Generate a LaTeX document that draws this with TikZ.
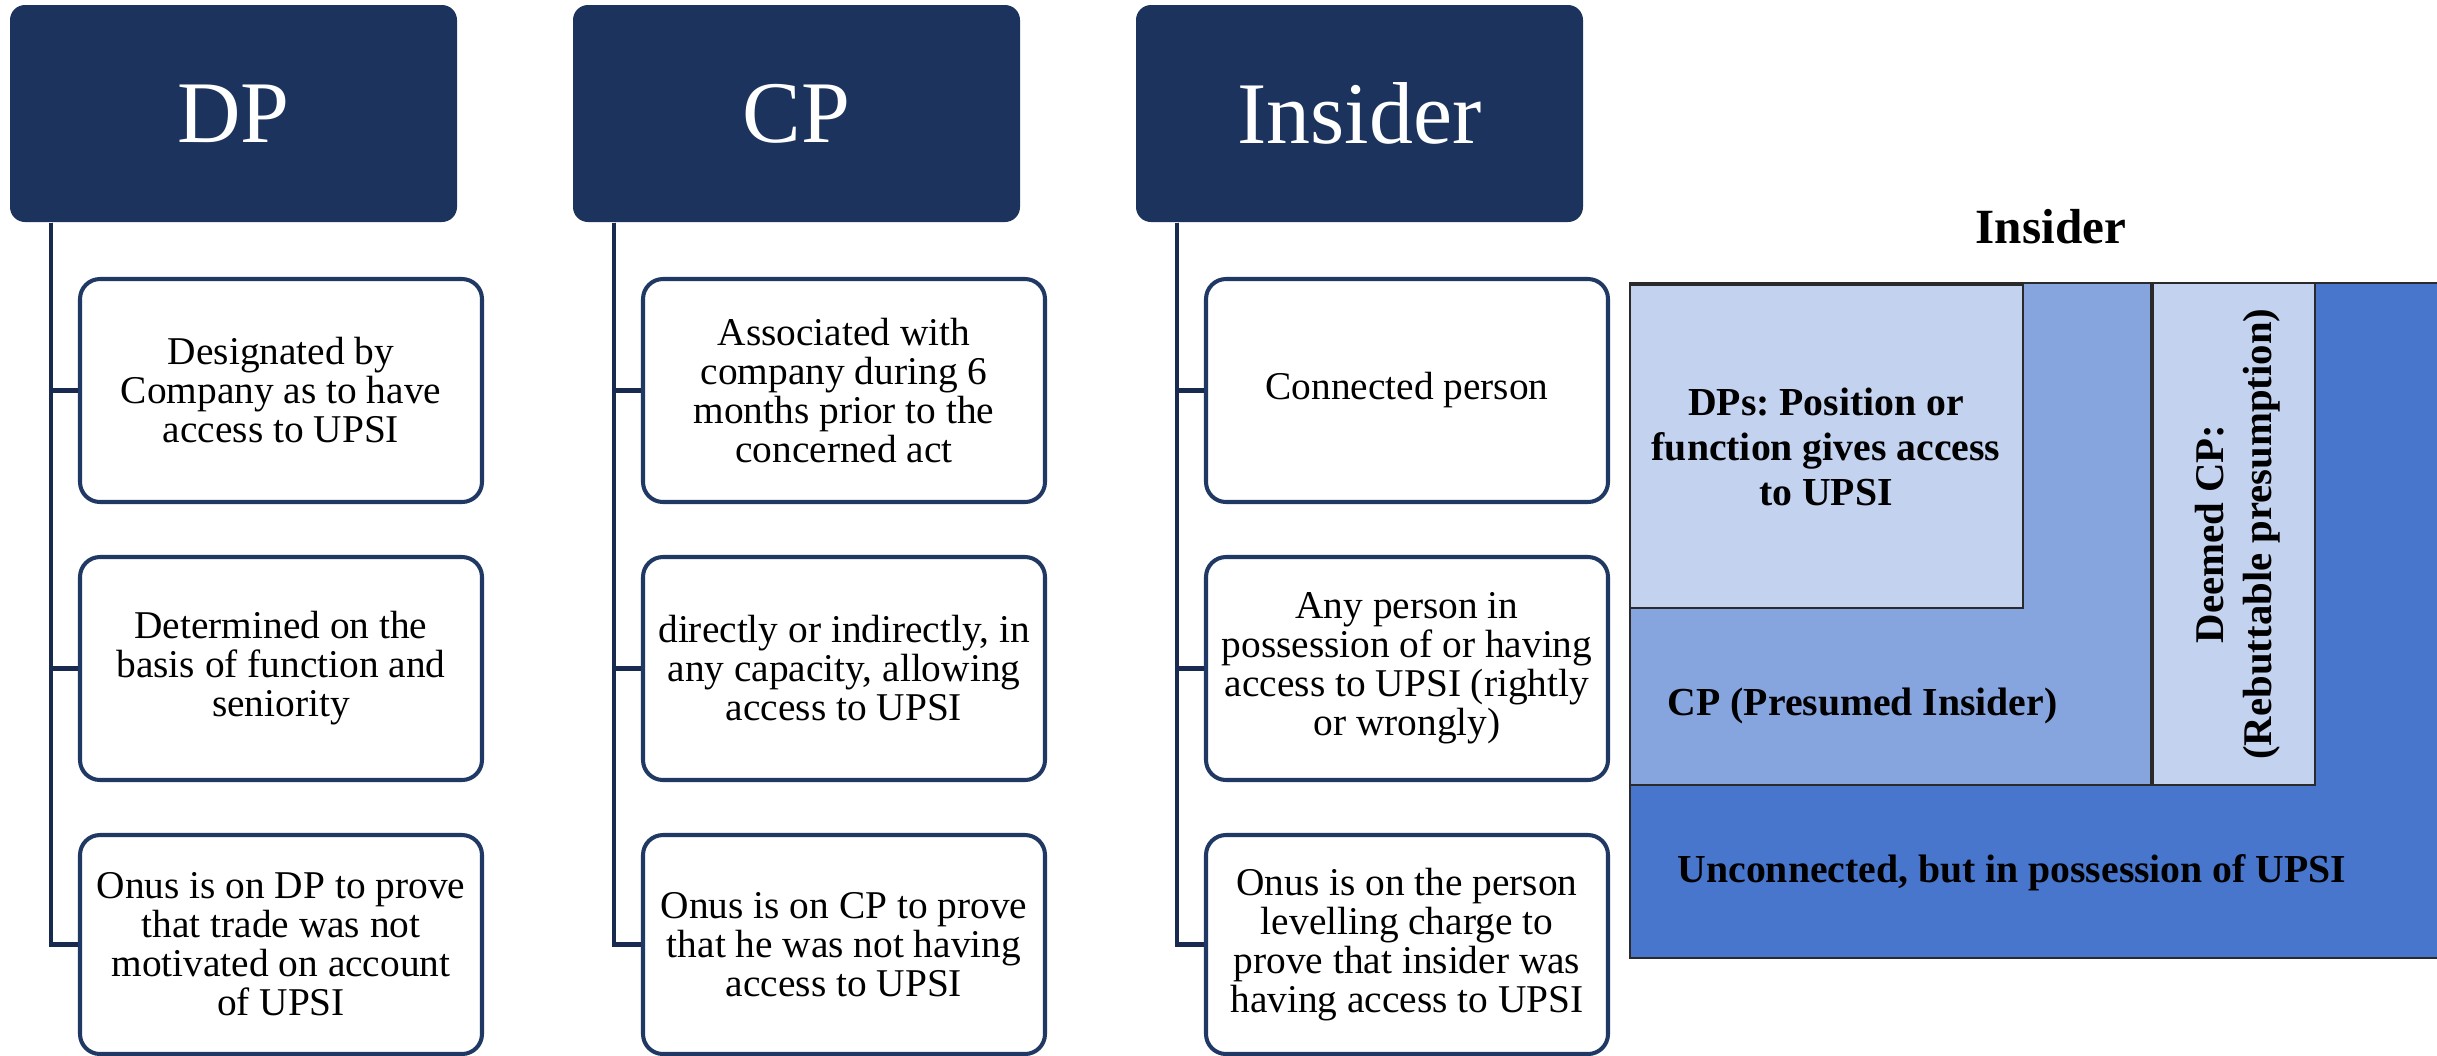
\documentclass[tikz,border=0pt]{standalone}
\usepackage{fontspec}
\setmainfont{Liberation Serif}
\frenchspacing
\definecolor{navy}{HTML}{1C335E}
\definecolor{navyline}{HTML}{1F3864}
\definecolor{trunkc}{HTML}{182A50}
\definecolor{ltblue}{HTML}{C3D2EE}
\definecolor{mdblue}{HTML}{86A4DE}
\definecolor{dkblue}{HTML}{4876CC}
\definecolor{edge}{HTML}{2A2A2A}
\tikzset{
  hdr/.style={fill=navy, rounded corners=1.5mm, minimum width=44.7mm,
    minimum height=21.7mm, inner sep=0pt, text=white,
    font=\fontsize{25}{30}\selectfont},
  item/.style={draw=navyline, line width=1.15pt, fill=white, rounded corners=2mm,
    minimum width=40.2mm, minimum height=22.3mm, inner sep=0pt, align=center,
    font=\fontsize{11.2}{11.1}\selectfont},
  lastitem/.style={item, minimum height=21.9mm},
  trunk/.style={draw=trunkc, line width=1.2pt},
  zone/.style={draw=edge, line width=0.35pt},
  paneltext/.style={inner sep=0pt, font=\fontsize{11.3}{12.8}\selectfont\bfseries}
}
\begin{document}
\begin{tikzpicture}[x=0.1mm, y=-0.1mm]
\useasboundingbox (0,0) rectangle (2437,1055);
\clip (0,0) rectangle (2437,1055);
\fill[white] (0,0) rectangle (2437,1055);

% column headers
\node[hdr] (hdp) at (233.5,113.5) {DP};
\node[hdr] (hcp) at (796.5,113.5) {CP};
\node[hdr] (hin) at (1359.5,113.5) {Insider};

% DP column
\node[item] (dp1) at (281,390.5) {Designated by\\Company as to have\\access to UPSI};
\node[item] (dp2) at (281,668.5) {Determined on the\\basis of function and\\seniority};
\node[lastitem] (dp3) at (281,944.5) {Onus is on DP to prove\\that trade was not\\motivated on account\\of UPSI};

% CP column
\node[item] (cp1) at (844,390.5) {Associated with\\company during 6\\months prior to the\\concerned act};
\node[item] (cp2) at (844,668.5) {directly or indirectly, in\\any capacity, allowing\\access to UPSI};
\node[lastitem] (cp3) at (844,944.5) {Onus is on CP to prove\\that he was not having\\access to UPSI};

% Insider column
\node[item] (in1) at (1407,390.5) {Connected person};
\node[item] (in2) at (1407,668.5) {Any person in\\possession of or having\\access to UPSI (rightly\\or wrongly)};
\node[lastitem] (in3) at (1407,944.5) {Onus is on the person\\levelling charge to\\prove that insider was\\having access to UPSI};

% trunk lines with branches
\foreach \h/\c in {hdp/dp, hcp/cp, hin/in}{
  \draw[trunk] ([xshift=4.2mm]\h.south west) |- (\c3.west);
  \draw[trunk] ([xshift=4.2mm]\h.south west) |- (\c2.west);
  \draw[trunk] ([xshift=4.2mm]\h.south west) |- (\c1.west);
}

% nested insider zones
\node[paneltext, font=\fontsize{14}{16}\selectfont\bfseries] (ttl) at (2051,227) {Insider};
\filldraw[zone, fill=dkblue] (1630,283) rectangle (2460,958);
\filldraw[zone, fill=mdblue] (1630,283) rectangle (2151,785);
\filldraw[zone, fill=ltblue] (1630,285) rectangle (2023,608);
\filldraw[zone, fill=ltblue] (2153,283) rectangle (2315,785);

\node[paneltext, align=center] (dps) at (1826,447) {DPs: Position or\\function gives access\\to UPSI};
\node[paneltext, anchor=west] (cpt) at (1667,706) {CP (Presumed Insider)};
\node[paneltext, anchor=west] (unc) at (1677,873) {Unconnected, but in possession of UPSI};
\node[paneltext, rotate=90, align=center,
  font=\fontsize{11.6}{13.6}\selectfont\bfseries] (dcp) at (2238,534)
  {Deemed CP:\\(Rebuttable presumption)};
\end{tikzpicture}
\end{document}
